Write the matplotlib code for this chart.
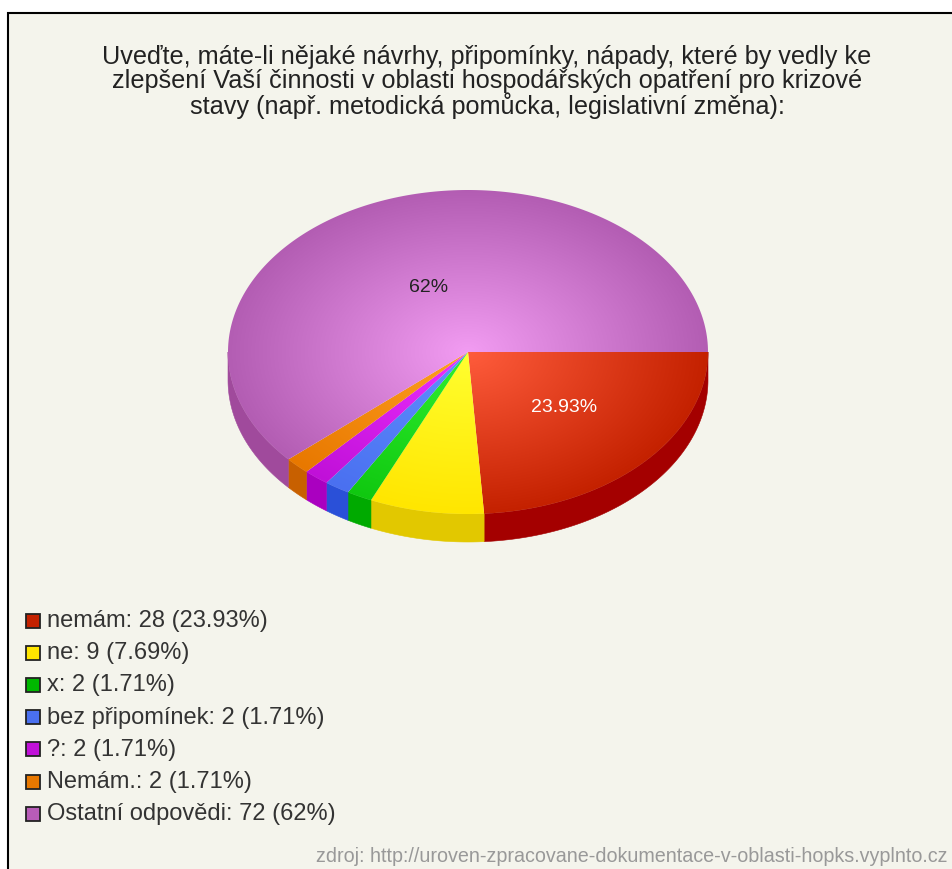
import matplotlib
matplotlib.use("Agg")
import matplotlib.pyplot as plt
from matplotlib.patches import Polygon, Rectangle
import numpy as np

TITLE = ("Uveďte, máte-li nějaké návrhy, připomínky, nápady, které by vedly ke\n"
         "zlepšení Vaší činnosti v oblasti hospodářských opatření pro krizové\n"
         "stavy (např. metodická pomůcka, legislativní změna):")
SOURCE = "zdroj: http://uroven-zpracovane-dokumentace-v-oblasti-hopks.vyplnto.cz"

labels = ["nemám", "ne", "x", "bez připomínek", "?", "Nemám.", "Ostatní odpovědi"]
counts = [28, 9, 2, 2, 2, 2, 72]
percents = ["23.93%", "7.69%", "1.71%", "1.71%", "1.71%", "1.71%", "62%"]

legend_colors = ["#c42100", "#ffe600", "#00b800", "#4a70f0", "#c010d8", "#e87800", "#b85cb8"]
inner_colors = ["#ff5c3c", "#ffff30", "#30f030", "#6090ff", "#ee30ff", "#ffa020", "#f29cf2"]
outer_colors = ["#c42100", "#ffe600", "#10c810", "#4a70f0", "#c010d8", "#e87800", "#b35db3"]
side_colors = ["#a40000", "#e2c800", "#00aa00", "#2a50d8", "#aa00c0", "#c86000", "#a04a9c"]

CX, CY = 468, 352
RX, RY = 240, 162
DEPTH = 28

fig = plt.figure(figsize=(9.52, 8.69), dpi=100)
ax = fig.add_axes([0, 0, 1, 1])
ax.set_xlim(0, 952)
ax.set_ylim(869, 0)
ax.axis("off")

ax.add_patch(Rectangle((8, 13), 960, 880, facecolor="#f4f4ec", edgecolor="black", lw=1.5))

font = "Liberation Sans"
ax.text(487, 82, TITLE, ha="center", va="center", fontsize=18.2, family=font,
        color="#222222", linespacing=0.98)

# pixel grid for the radial shading of the top face
xs = np.arange(CX - RX - 2, CX + RX + 3)
ys = np.arange(CY - RY - 2, CY + RY + 3)
gx, gy = np.meshgrid(xs, ys)
rad = np.clip(np.hypot((gx - CX) / RX, (gy - CY) / RY), 0, 1)

fracs = np.array(counts) / sum(counts)
edges = np.concatenate([[0], np.cumsum(fracs)]) * 2 * np.pi


def arc(a0, a1):
    t = np.linspace(a0, a1, 200)
    return np.column_stack([CX + RX * np.cos(t), CY + RY * np.sin(t)])


for i in range(len(counts)):
    a0, a1 = edges[i], edges[i + 1]
    # side wall, only the front half of the rim shows
    s0, s1 = a0, min(a1, np.pi)
    if s0 < s1:
        rim = arc(s0, s1)
        wall = np.vstack([rim, rim[::-1] + [0, DEPTH]])
        ax.add_patch(Polygon(wall, closed=True, facecolor=side_colors[i],
                             edgecolor=side_colors[i], lw=0.4))

for i in range(len(counts)):
    a0, a1 = edges[i], edges[i + 1]
    c0 = np.array(matplotlib.colors.to_rgb(inner_colors[i]))
    c1 = np.array(matplotlib.colors.to_rgb(outer_colors[i]))
    img = c0 + (c1 - c0) * rad[..., None]
    im = ax.imshow(img, extent=(xs[0], xs[-1], ys[-1], ys[0]), aspect="auto",
                   interpolation="bilinear", zorder=2)
    top = Polygon(np.vstack([[CX, CY], arc(a0, a1)]), closed=True, facecolor="none",
                  edgecolor="none", transform=ax.transData)
    ax.add_patch(top)
    im.set_clip_path(top)
ax.set_xlim(0, 952)
ax.set_ylim(869, 0)

# value labels inside the two big slices
ax.text(564, 407, percents[0], color="white", fontsize=14, family=font,
        ha="center", va="center", zorder=3)
ax.text(429, 287, percents[6], color="#222222", fontsize=14, family=font,
        ha="center", va="center", zorder=3)

for i, (name, n, pct) in enumerate(zip(labels, counts, percents)):
    y = 621 + i * 32.2
    ax.add_patch(Rectangle((26, y - 7.5), 14, 14, facecolor=legend_colors[i],
                           edgecolor="#222222", lw=1.3, zorder=3))
    ax.text(47, y, f"{name}: {n} ({pct})", fontsize=17, family=font, color="#333333",
            ha="left", va="center", zorder=3)

ax.text(947, 856, SOURCE, fontsize=14.2, family=font, color="#999999",
        ha="right", va="center", zorder=3)

fig.savefig("out.png", dpi=100, facecolor="white")
